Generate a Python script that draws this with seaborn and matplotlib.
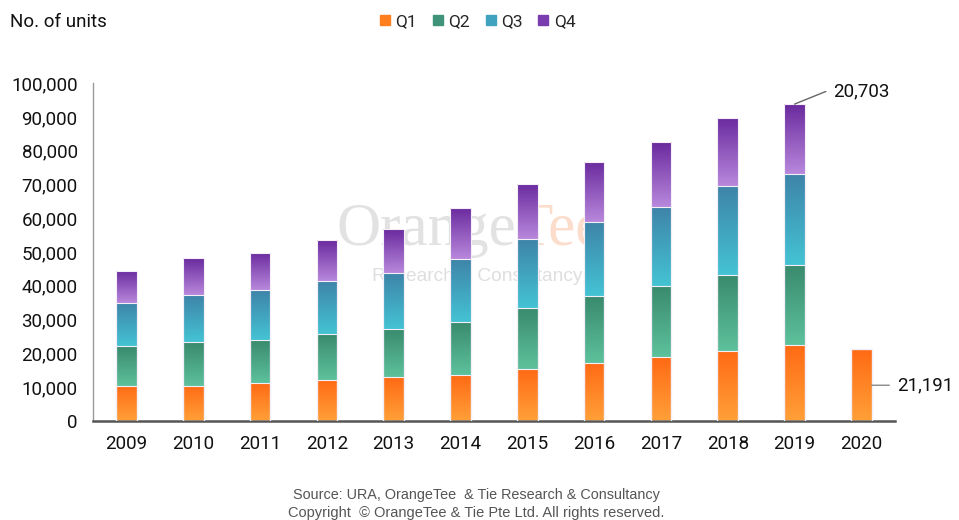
import numpy as np
import pandas as pd
import matplotlib
matplotlib.use("Agg")
import matplotlib.pyplot as plt
from matplotlib.colors import to_rgb
from matplotlib.lines import Line2D
from matplotlib.patches import Rectangle
import seaborn as sns

# data (units)
years = ["2009", "2010", "2011", "2012", "2013", "2014", "2015", "2016", "2017", "2018", "2019", "2020"]
q1 = [10400, 10400, 11200, 12100, 12900, 13400, 15400, 17200, 18800, 20600, 22400, 21191]
q2 = [11600, 13000, 12800, 13700, 14400, 15900, 18100, 19700, 21200, 22700, 23800, 0]
q3 = [12800, 13900, 14600, 15500, 16400, 18500, 20300, 21900, 23300, 26100, 26900, 0]
q4 = [9600, 10800, 11200, 12100, 13000, 15200, 16400, 17800, 19200, 20400, 20703, 0]
quarters = ["Q1", "Q2", "Q3", "Q4"]

# gradient colours (top, bottom) for each quarter
grad = {
    "Q1": ("#FF6A14", "#FFA038"),
    "Q2": ("#398A6D", "#5DC19C"),
    "Q3": ("#3E84A9", "#44C3D3"),
    "Q4": ("#6A2A9E", "#B888DC"),
}
legend_cols = {"Q1": "#FF7F1F", "Q2": "#3F9378", "Q3": "#3FA3C0", "Q4": "#7A3DB0"}

df = pd.DataFrame({"year": years, "Q1": q1, "Q2": q2, "Q3": q3, "Q4": q4})
cum = df[quarters].cumsum(axis=1)

sns.set_style("white")
plt.rcParams["font.family"] = ["Roboto", "DejaVu Sans"]

fig = plt.figure(figsize=(9.59, 5.2), dpi=100)
ax = fig.add_axes([0.097, 0.191, 0.836, 0.649])
ax.set_facecolor("none")

width = 0.31
# draw cumulative heights, tallest first, so segments stack
for q in reversed(quarters):
    sns.barplot(x=df["year"], y=cum[q], color=grad[q][0], width=width, errorbar=None,
                edgecolor="#F4EEF8", linewidth=0.8, ax=ax, zorder=2)

# overlay vertical gradients on each visible segment (padded image, clipped to the segment)
n = len(years)
patches = ax.patches
t = np.concatenate([np.zeros(16), np.linspace(0, 1, 128), np.ones(16)])[:, None]
for qi, q in enumerate(reversed(quarters)):
    qidx = quarters.index(q)
    top_c = np.array(to_rgb(grad[q][0]))
    bot_c = np.array(to_rgb(grad[q][1]))
    img = (bot_c * (1 - t) + top_c * t)[:, None, :]
    img = np.repeat(img, 4, axis=1)
    for i in range(n):
        p = patches[qi * n + i]
        lo = cum[quarters[qidx - 1]].iloc[i] if qidx > 0 else 0
        hi = cum[q].iloc[i]
        if hi - lo <= 0:
            continue
        x0, w = p.get_x(), p.get_width()
        pad = (hi - lo) * 16 / 128
        im = ax.imshow(img, extent=(x0 - 0.05, x0 + w + 0.05, lo - pad, hi + pad), origin="lower",
                       aspect="auto", zorder=2.5, interpolation="nearest")
        im.set_clip_path(Rectangle((x0, lo), w, hi - lo, transform=ax.transData))
for p in patches:
    p.set_facecolor("none")
    p.set_zorder(3)

ax.set_xlim(-0.5, n - 0.5)
ax.set_ylim(0, 100000)
ax.set_yticks(np.arange(0, 100001, 10000))
ax.set_yticklabels([f"{v:,}" for v in range(0, 100001, 10000)])
ax.set_xlabel("")
ax.set_ylabel("")
ax.tick_params(axis="both", length=0, labelsize=13.5, colors="#111111")
ax.tick_params(axis="y", pad=11)
ax.tick_params(axis="x", pad=10)
for s in ["top", "right"]:
    ax.spines[s].set_visible(False)
ax.spines["left"].set_color("#9A9A9A")
ax.spines["left"].set_linewidth(1.0)
ax.spines["bottom"].set_color("#555555")
ax.spines["bottom"].set_linewidth(1.8)

# watermark behind the bars
wm1 = fig.text(0.351, 0.529, "Orange", fontsize=44, family="Liberation Serif",
               color="#E2E2E2", va="baseline", zorder=-1)
fig.canvas.draw()
bb = wm1.get_window_extent()
fig.text(bb.x1 / fig.bbox.width, 0.529, "Tee", fontsize=44, family="Liberation Serif",
         color="#FCDCCB", va="baseline", zorder=-1)
fig.text(0.3875, 0.459, "Research & Consultancy", fontsize=13.8, family="Liberation Sans",
         color="#DEDEDE", va="baseline", zorder=-1)

# callouts
i19 = years.index("2019")
ax.annotate(f"{q4[i19]:,}", xy=(i19, cum["Q4"].iloc[i19]), xytext=(i19 + 0.58, 97500),
            fontsize=13.5, color="#111111", va="center", ha="left",
            arrowprops=dict(arrowstyle="-", color="#666666", lw=1,
                            connectionstyle="angle,angleA=0,angleB=22,rad=0",
                            shrinkA=3, shrinkB=0))
i20 = years.index("2020")
ax.annotate(f"{q1[i20]:,}", xy=(i20 + width / 2, 10500), xytext=(i20 + 0.53, 10500),
            fontsize=13.5, color="#111111", va="center", ha="left",
            arrowprops=dict(arrowstyle="-", color="#888888", lw=1, shrinkA=3, shrinkB=0),
            annotation_clip=False)

fig.text(0.010, 0.958, "No. of units", fontsize=13.5, color="#111111", va="center")

handles = [Line2D([], [], marker="s", linestyle="", markersize=7, color=legend_cols[q]) for q in quarters]
fig.legend(handles, quarters, loc="center", bbox_to_anchor=(0.497, 0.958), ncol=4,
           frameon=False, fontsize=12.5, handletextpad=0.2, columnspacing=0.8, handlelength=0.8)

fig.text(0.497, 0.048, "Source: URA, OrangeTee  & Tie Research & Consultancy",
         fontsize=10.4, color="#555555", ha="center", va="center", family="Liberation Sans")
fig.text(0.497, 0.0135, "Copyright  \u00a9 OrangeTee & Tie Pte Ltd. All rights reserved.",
         fontsize=10.5, color="#555555", ha="center", va="center", family="Liberation Sans")

fig.savefig("out.png", dpi=100)
